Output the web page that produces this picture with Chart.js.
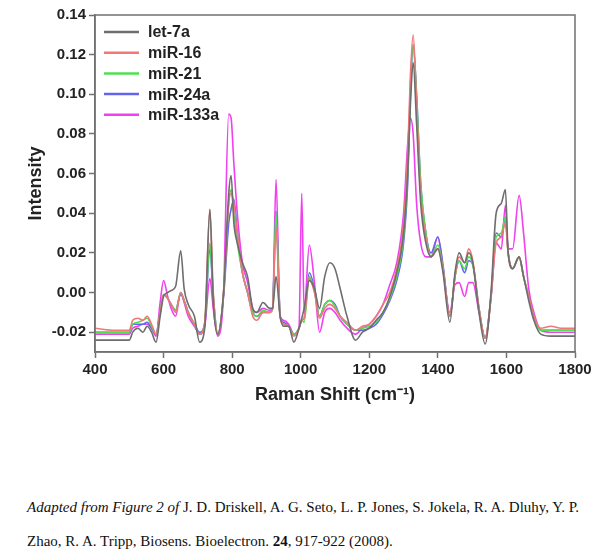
<!DOCTYPE html>
<html>
<head>
<meta charset="utf-8">
<script src="https://cdn.jsdelivr.net/npm/chart.js@4.4.1/dist/chart.umd.min.js"></script>
<style>
  body { margin: 0; background: #fff; }
  #wrap { position: absolute; left: 0; top: 0; width: 600px; height: 410px; }
  .cap {
    position: absolute; left: 27px; top: 490px; width: 570px;
    font-family: 'Liberation Serif', 'Times New Roman', serif;
    font-size: 15px; line-height: 34px; color: #111; white-space: nowrap;
  }
</style>
</head>
<body>
<div id="wrap"><canvas id="ramanChart"></canvas></div>
<div class="cap"><i>Adapted from Figure 2 of</i> J. D. Driskell, A. G. Seto, L. P. Jones, S. Jokela, R. A. Dluhy, Y. P.<br>Zhao, R. A. Tripp, Biosens. Bioelectron. <b>24</b>, 917-922 (2008).</div>
<script>
/** Raman shift (cm-1), shared by every spectrum */
const ramanShift = [
  400, 450, 500, 510, 525, 540, 552, 565, 578, 590,
  600, 612, 622, 635, 650, 660, 672, 690, 705, 720,
  735, 745, 758, 775, 790, 797, 805, 815, 830, 845,
  860, 872, 890, 910, 918, 928, 940, 950, 965, 980,
  995, 1003, 1010, 1025, 1040, 1055, 1070, 1085, 1100, 1115,
  1135, 1160, 1180, 1200, 1220, 1240, 1260, 1280, 1300, 1312,
  1320, 1328, 1338, 1350, 1365, 1380, 1400, 1415, 1435, 1450,
  1462, 1478, 1490, 1502, 1520, 1538, 1555, 1570, 1585, 1597,
  1605, 1618, 1637, 1650, 1665, 1680, 1700, 1730, 1760, 1800,
];

const let7a = [
  -0.024, -0.024, -0.024, -0.020, -0.018, -0.020, -0.017, -0.020, -0.025, -0.012,
  -0.002, 0.000, 0.001, 0.003, 0.021, 0.002, -0.006, -0.012, -0.025, -0.018,
  0.042, -0.005, -0.021, 0.000, 0.050, 0.059, 0.035, 0.025, 0.015, 0.008,
  -0.008, -0.010, -0.005, -0.008, -0.008, 0.008, -0.012, -0.017, -0.017, -0.025,
  -0.018, -0.013, -0.008, 0.006, 0.002, -0.008, 0.008, 0.015, 0.012, 0.002,
  -0.012, -0.024, -0.020, -0.018, -0.014, -0.010, -0.002, 0.010, 0.030, 0.060,
  0.095, 0.116, 0.085, 0.045, 0.025, 0.018, 0.022, 0.010, -0.015, 0.010,
  0.020, 0.015, 0.020, 0.015, -0.010, -0.026, 0.000, 0.040, 0.045, 0.052,
  0.020, 0.012, 0.018, 0.008, -0.004, -0.014, -0.021, -0.022, -0.022, -0.022,
];

const miR16 = [
  -0.018, -0.019, -0.019, -0.014, -0.013, -0.014, -0.012, -0.016, -0.021, -0.010,
  -0.001, -0.003, -0.006, -0.010, 0.000, -0.004, -0.010, -0.016, -0.021, -0.015,
  0.042, 0.000, -0.021, 0.000, 0.045, 0.050, 0.045, 0.030, 0.010, 0.000,
  -0.012, -0.014, -0.010, -0.010, -0.008, 0.033, -0.012, -0.016, -0.017, -0.022,
  -0.018, -0.014, -0.013, 0.007, 0.000, -0.013, -0.008, -0.006, -0.008, -0.012,
  -0.015, -0.019, -0.017, -0.016, -0.012, -0.006, 0.000, 0.012, 0.035, 0.070,
  0.110, 0.130, 0.095, 0.050, 0.028, 0.018, 0.022, 0.012, -0.012, 0.008,
  0.018, 0.015, 0.022, 0.016, -0.008, -0.023, -0.002, 0.025, 0.028, 0.035,
  0.020, 0.012, 0.018, 0.008, -0.002, -0.012, -0.018, -0.017, -0.018, -0.018,
];

const miR21 = [
  -0.020, -0.020, -0.020, -0.016, -0.015, -0.014, -0.013, -0.017, -0.021, -0.010,
  -0.001, -0.003, -0.006, -0.009, 0.000, -0.004, -0.010, -0.016, -0.021, -0.015,
  0.025, -0.002, -0.021, 0.000, 0.045, 0.052, 0.040, 0.025, 0.010, 0.000,
  -0.010, -0.012, -0.009, -0.010, -0.008, 0.040, -0.012, -0.016, -0.017, -0.021,
  -0.018, -0.014, -0.015, 0.008, 0.001, -0.012, -0.006, -0.004, -0.007, -0.012,
  -0.016, -0.019, -0.018, -0.017, -0.015, -0.010, -0.003, 0.008, 0.028, 0.060,
  0.105, 0.125, 0.098, 0.055, 0.030, 0.018, 0.024, 0.012, -0.012, 0.008,
  0.016, 0.012, 0.018, 0.014, -0.008, -0.023, -0.002, 0.028, 0.030, 0.038,
  0.020, 0.012, 0.018, 0.008, -0.002, -0.012, -0.019, -0.019, -0.019, -0.019,
];

const miR24a = [
  -0.020, -0.020, -0.020, -0.016, -0.016, -0.016, -0.015, -0.018, -0.021, -0.010,
  -0.001, -0.003, -0.006, -0.009, -0.001, -0.004, -0.010, -0.016, -0.020, -0.016,
  0.022, -0.002, -0.021, -0.002, 0.035, 0.042, 0.047, 0.030, 0.010, 0.000,
  -0.010, -0.012, -0.010, -0.010, -0.008, 0.041, -0.012, -0.015, -0.017, -0.021,
  -0.018, -0.014, -0.013, 0.010, 0.002, -0.012, -0.006, -0.004, -0.006, -0.012,
  -0.016, -0.019, -0.019, -0.018, -0.016, -0.011, -0.004, 0.006, 0.025, 0.055,
  0.100, 0.125, 0.100, 0.055, 0.030, 0.020, 0.028, 0.014, -0.012, 0.008,
  0.016, 0.010, 0.016, 0.014, -0.008, -0.023, -0.002, 0.030, 0.028, 0.038,
  0.020, 0.012, 0.018, 0.008, -0.002, -0.012, -0.019, -0.019, -0.019, -0.019,
];

const miR133a = [
  -0.021, -0.021, -0.021, -0.018, -0.017, -0.016, -0.016, -0.018, -0.022, -0.005,
  0.006, -0.002, -0.008, -0.012, 0.000, -0.005, -0.012, -0.017, -0.021, -0.017,
  0.007, -0.008, -0.022, 0.000, 0.090, 0.088, 0.065, 0.040, 0.015, 0.005,
  -0.008, -0.010, -0.008, -0.009, -0.008, 0.057, -0.012, -0.014, -0.016, -0.021,
  -0.018, 0.050, -0.010, 0.024, 0.005, -0.020, -0.010, -0.008, -0.010, -0.014,
  -0.018, -0.021, -0.018, -0.016, -0.012, -0.006, 0.004, 0.015, 0.040, 0.075,
  0.088, 0.080, 0.045, 0.025, 0.018, 0.018, 0.028, 0.012, -0.010, 0.004,
  0.005, -0.002, 0.005, 0.005, -0.010, -0.023, -0.003, 0.025, 0.022, 0.044,
  0.022, 0.022, 0.049, 0.030, 0.002, -0.010, -0.019, -0.020, -0.020, -0.020,
];

const seriesNames = ['let-7a', 'miR-16', 'miR-21', 'miR-24a', 'miR-133a'];
const seriesValues = [let7a, miR16, miR21, miR24a, miR133a];
const seriesColors = ['#6e6e6e', '#f07878', '#4ee04e', '#6464ee', '#f040f0'];

const xTicks = [400, 600, 800, 1000, 1200, 1400, 1600, 1800];
const yTicks = [-0.02, 0.0, 0.02, 0.04, 0.06, 0.08, 0.1, 0.12, 0.14];

const frameColor = '#707070';
const tickFont = { family: 'Arial, "Liberation Sans", sans-serif', size: 15, weight: 'bold' };
const titleFont = { family: 'Arial, "Liberation Sans", sans-serif', size: 18, weight: 'bold' };

// 플롯 테두리 + 그림 안쪽 범례
const framePlugin = {
  id: 'frameAndLegend',
  afterDraw(chart) {
    const { ctx, chartArea: a } = chart;
    ctx.save();
    ctx.strokeStyle = frameColor;
    ctx.lineWidth = 1.5;
    ctx.strokeRect(a.left, a.top, a.right - a.left, a.bottom - a.top);

    ctx.font = 'bold 16px Arial, "Liberation Sans", sans-serif';
    ctx.textBaseline = 'middle';
    chart.data.datasets.forEach((ds, i) => {
      const y = a.top + 17 + i * 20.7;
      ctx.strokeStyle = ds.borderColor;
      ctx.lineWidth = 2.5;
      ctx.beginPath();
      ctx.moveTo(a.left + 9, y);
      ctx.lineTo(a.left + 44, y);
      ctx.stroke();
      ctx.fillStyle = '#222';
      ctx.fillText(ds.label, a.left + 53, y + 1);
    });
    ctx.restore();
  },
};

const ramanData = {
  datasets: seriesNames.map((name, i) => ({
    label: name,
    data: ramanShift.map((x, j) => ({ x: x, y: seriesValues[i][j] })),
    borderColor: seriesColors[i],
    backgroundColor: seriesColors[i],
    borderWidth: 1.6,
    pointRadius: 0,
    fill: false,
    cubicInterpolationMode: 'monotone',
  })),
};

const ramanConfig = {
  type: 'line',
  data: ramanData,
  options: {
    responsive: true,
    maintainAspectRatio: false,
    animation: false,
    layout: {
      padding: { left: 0, right: 25, top: 15, bottom: 0 },
    },
    plugins: {
      legend: { display: false },
      tooltip: { enabled: false },
    },
    scales: {
      x: {
        type: 'linear',
        min: 400,
        max: 1800,
        afterBuildTicks: (axis) => {
          axis.ticks = xTicks.map((v) => ({ value: v }));
        },
        afterFit: (axis) => {
          axis.height = 58;
        },
        ticks: {
          font: tickFont,
          color: '#222',
          maxRotation: 0,
          padding: 3,
          callback: (v) => String(v),
        },
        grid: {
          drawOnChartArea: false,
          drawTicks: true,
          tickLength: 6,
          tickColor: frameColor,
          tickWidth: 1.5,
        },
        border: { display: true, color: frameColor, width: 1.5 },
        title: {
          display: true,
          text: 'Raman Shift (cm\u207B\u00B9)',
          font: titleFont,
          color: '#222',
          padding: { top: 0, bottom: 4 },
        },
      },
      y: {
        min: -0.03,
        max: 0.14,
        afterBuildTicks: (axis) => {
          axis.ticks = yTicks.map((v) => ({ value: v }));
        },
        afterFit: (axis) => {
          axis.width = 95;
        },
        ticks: {
          font: tickFont,
          color: '#222',
          padding: 3,
          callback: (v) => Number(v).toFixed(2),
        },
        grid: {
          drawOnChartArea: false,
          drawTicks: true,
          tickLength: 6,
          tickColor: frameColor,
          tickWidth: 1.5,
        },
        border: { display: true, color: frameColor, width: 1.5 },
        title: {
          display: true,
          text: 'Intensity',
          font: titleFont,
          color: '#222',
          padding: { top: 25, bottom: 0 },
        },
      },
    },
  },
  plugins: [framePlugin],
};

const ramanChart = new Chart(document.getElementById('ramanChart'), ramanConfig);
</script>
</body>
</html>
